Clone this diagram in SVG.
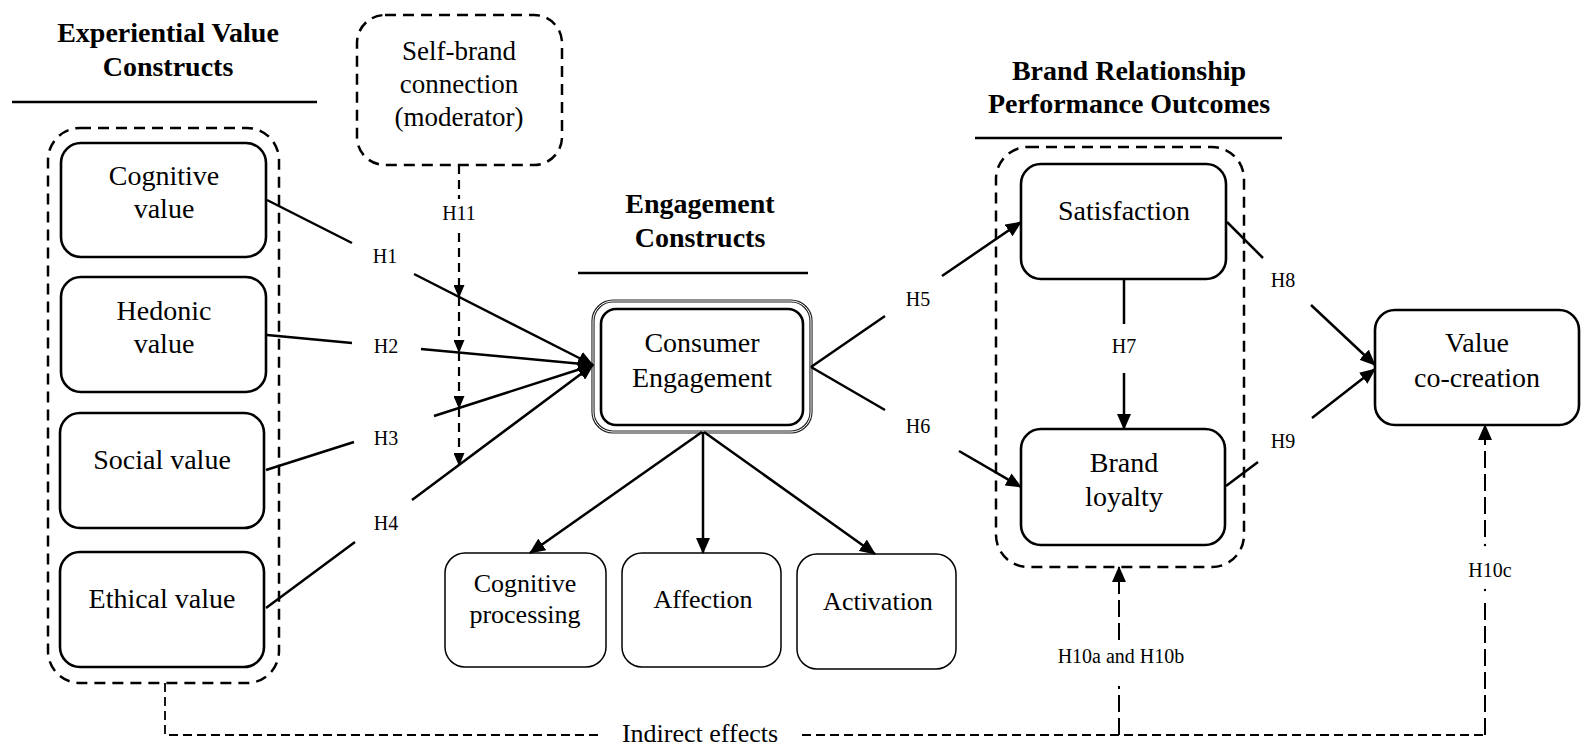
<svg xmlns="http://www.w3.org/2000/svg" width="1584" height="755" viewBox="0 0 1584 755">
<style>
text{font-family:"Liberation Serif","Times New Roman",serif;fill:#000;text-anchor:middle}
.title{font-size:28px;font-weight:bold}
.big{font-size:28px}
.mid{font-size:27px}
.sm{font-size:26px}
.lab{font-size:20px}
.box{fill:#fff;stroke:#000;stroke-width:2.6}
.tbox{fill:#fff;stroke:#000;stroke-width:1.5}
.dbox{fill:none;stroke:#000;stroke-width:2.5;stroke-dasharray:11 7}
.rule{stroke:#000;stroke-width:2.5}
.con{fill:none;stroke:#000;stroke-width:2.5}
.mod{fill:none;stroke:#000;stroke-width:2.2;stroke-dasharray:9 6}
.ind{fill:none;stroke:#000;stroke-width:1.8;stroke-dasharray:9 5}
.hyp{fill:none;stroke:#000;stroke-width:2;stroke-dasharray:17 6}
</style>
<defs>
<marker id="ah" viewBox="0 0 16 14" refX="15" refY="7" markerWidth="16" markerHeight="14" orient="auto" markerUnits="userSpaceOnUse"><path d="M0,0 L16,7 L0,14 z" fill="#000"/></marker>
<marker id="as" viewBox="0 0 13 11" refX="12" refY="5.5" markerWidth="13" markerHeight="11" orient="auto" markerUnits="userSpaceOnUse"><path d="M0,0 L13,5.5 L0,11 z" fill="#000"/></marker>
</defs>

<g id="headings">
<text class="title" x="168" y="42">Experiential Value</text>
<text class="title" x="168" y="76">Constructs</text>
<line class="rule" x1="12" y1="102" x2="317" y2="102"/>
<text class="title" x="700" y="213">Engagement</text>
<text class="title" x="700" y="247">Constructs</text>
<line class="rule" x1="578" y1="273" x2="808" y2="273"/>
<text class="title" x="1129" y="80">Brand Relationship</text>
<text class="title" x="1129" y="113">Performance Outcomes</text>
<line class="rule" x1="975" y1="138" x2="1282" y2="138"/>
</g>

<g id="experiential-group">
<rect class="dbox" x="48" y="128" width="231" height="555" rx="32"/>
</g>
<g id="cognitive-value">
<rect class="box" x="61" y="143" width="205" height="114" rx="20"/>
<text class="big" x="164" y="185">Cognitive</text>
<text class="big" x="164" y="218">value</text>
</g>
<g id="hedonic-value">
<rect class="box" x="61" y="277" width="205" height="115" rx="20"/>
<text class="big" x="164" y="320">Hedonic</text>
<text class="big" x="164" y="353">value</text>
</g>
<g id="social-value">
<rect class="box" x="60" y="413" width="204" height="115" rx="20"/>
<text class="big" x="162" y="469">Social value</text>
</g>
<g id="ethical-value">
<rect class="box" x="60" y="552" width="204" height="115" rx="20"/>
<text class="big" x="162" y="608">Ethical value</text>
</g>

<g id="self-brand">
<rect class="dbox" x="357" y="15" width="205" height="150" rx="28"/>
<text class="mid" x="459" y="60">Self-brand</text>
<text class="mid" x="459" y="93">connection</text>
<text class="mid" x="459" y="126">(moderator)</text>
</g>

<g id="consumer-engagement">
<rect x="593" y="301" width="218" height="131" rx="20" fill="#fff" stroke="#222" stroke-width="3.2"/>
<rect x="593" y="301" width="218" height="131" rx="20" fill="none" stroke="#fff" stroke-width="1"/>
<rect class="box" x="601" y="309" width="202" height="116" rx="15"/>
<text class="big" x="702" y="352">Consumer</text>
<text class="big" x="702" y="387">Engagement</text>
</g>

<g id="cognitive-processing">
<rect class="tbox" x="445" y="553" width="161" height="114" rx="20"/>
<text class="sm" x="525" y="592">Cognitive</text>
<text class="sm" x="525" y="623">processing</text>
</g>
<g id="affection">
<rect class="tbox" x="622" y="553" width="159" height="114" rx="20"/>
<text class="sm" x="703" y="608">Affection</text>
</g>
<g id="activation">
<rect class="tbox" x="797" y="554" width="159" height="115" rx="20"/>
<text class="sm" x="878" y="610">Activation</text>
</g>

<g id="outcomes-group">
<rect class="dbox" x="996" y="147" width="248" height="420" rx="32"/>
</g>
<g id="satisfaction">
<rect class="box" x="1021" y="164" width="205" height="115" rx="20"/>
<text class="big" x="1124" y="220">Satisfaction</text>
</g>
<g id="brand-loyalty">
<rect class="box" x="1021" y="429" width="204" height="116" rx="20"/>
<text class="big" x="1124" y="472">Brand</text>
<text class="big" x="1124" y="506">loyalty</text>
</g>
<g id="value-co-creation">
<rect class="box" x="1375" y="310" width="204" height="115" rx="20"/>
<text class="big" x="1477" y="352">Value</text>
<text class="big" x="1477" y="387">co-creation</text>
</g>

<g id="connectors">
<path class="con" d="M267,200 L352,243 M414,274 L593,365" marker-end="url(#ah)"/>
<path class="con" d="M267,335 L352,343 M421,349 L593,365" marker-end="url(#ah)"/>
<path class="con" d="M266,470 L354,442 M434,416 L593,365" marker-end="url(#ah)"/>
<path class="con" d="M266,608 L355,542 M412,500 L593,365" marker-end="url(#ah)"/>
<text class="lab" x="385" y="263">H1</text>
<text class="lab" x="386" y="353">H2</text>
<text class="lab" x="386" y="445">H3</text>
<text class="lab" x="386" y="530">H4</text>

<line class="mod" x1="459" y1="165" x2="459" y2="199"/>
<line class="mod" x1="459" y1="233" x2="459" y2="297" marker-end="url(#as)"/>
<line class="mod" x1="459" y1="297" x2="459" y2="352" marker-end="url(#as)"/>
<line class="mod" x1="459" y1="352" x2="459" y2="408" marker-end="url(#as)"/>
<line class="mod" x1="459" y1="408" x2="459" y2="465" marker-end="url(#as)"/>
<text class="lab" x="459" y="220">H11</text>

<line class="con" x1="702" y1="432" x2="530" y2="553" marker-end="url(#ah)"/>
<line class="con" x1="703" y1="432" x2="703" y2="553" marker-end="url(#ah)"/>
<line class="con" x1="704" y1="432" x2="875" y2="554" marker-end="url(#ah)"/>

<path class="con" d="M811,367 L885,316 M942,276 L1021,222" marker-end="url(#ah)"/>
<path class="con" d="M811,367 L885,410 M959,451 L1021,487" marker-end="url(#ah)"/>
<text class="lab" x="918" y="306">H5</text>
<text class="lab" x="918" y="433">H6</text>

<path class="con" d="M1124,279 L1124,324 M1124,373 L1124,429" marker-end="url(#ah)"/>
<text class="lab" x="1124" y="353">H7</text>

<path class="con" d="M1227,222 L1263,258 M1311,305 L1375,365" marker-end="url(#ah)"/>
<path class="con" d="M1226,486 L1258,462 M1312,418 L1375,369" marker-end="url(#ah)"/>
<text class="lab" x="1283" y="287">H8</text>
<text class="lab" x="1283" y="448">H9</text>

<path class="ind" d="M165,683 L165,735 L600,735"/>
<line class="ind" x1="802" y1="735" x2="1485" y2="735"/>
<text class="sm" x="700" y="742">Indirect effects</text>

<line class="hyp" x1="1119" y1="735" x2="1119" y2="686"/>
<line class="hyp" x1="1119" y1="640" x2="1119" y2="567" marker-end="url(#ah)"/>
<circle cx="1119" cy="632" r="1.2" fill="#000"/>
<text class="lab" x="1121" y="663">H10a and H10b</text>

<line class="hyp" x1="1485" y1="735" x2="1485" y2="598"/>
<circle cx="1485" cy="590" r="1.2" fill="#000"/>
<circle cx="1485" cy="545" r="1.2" fill="#000"/>
<line class="hyp" x1="1485" y1="537" x2="1485" y2="425" marker-end="url(#ah)"/>
<text class="lab" x="1490" y="577">H10c</text>
</g>
</svg>
